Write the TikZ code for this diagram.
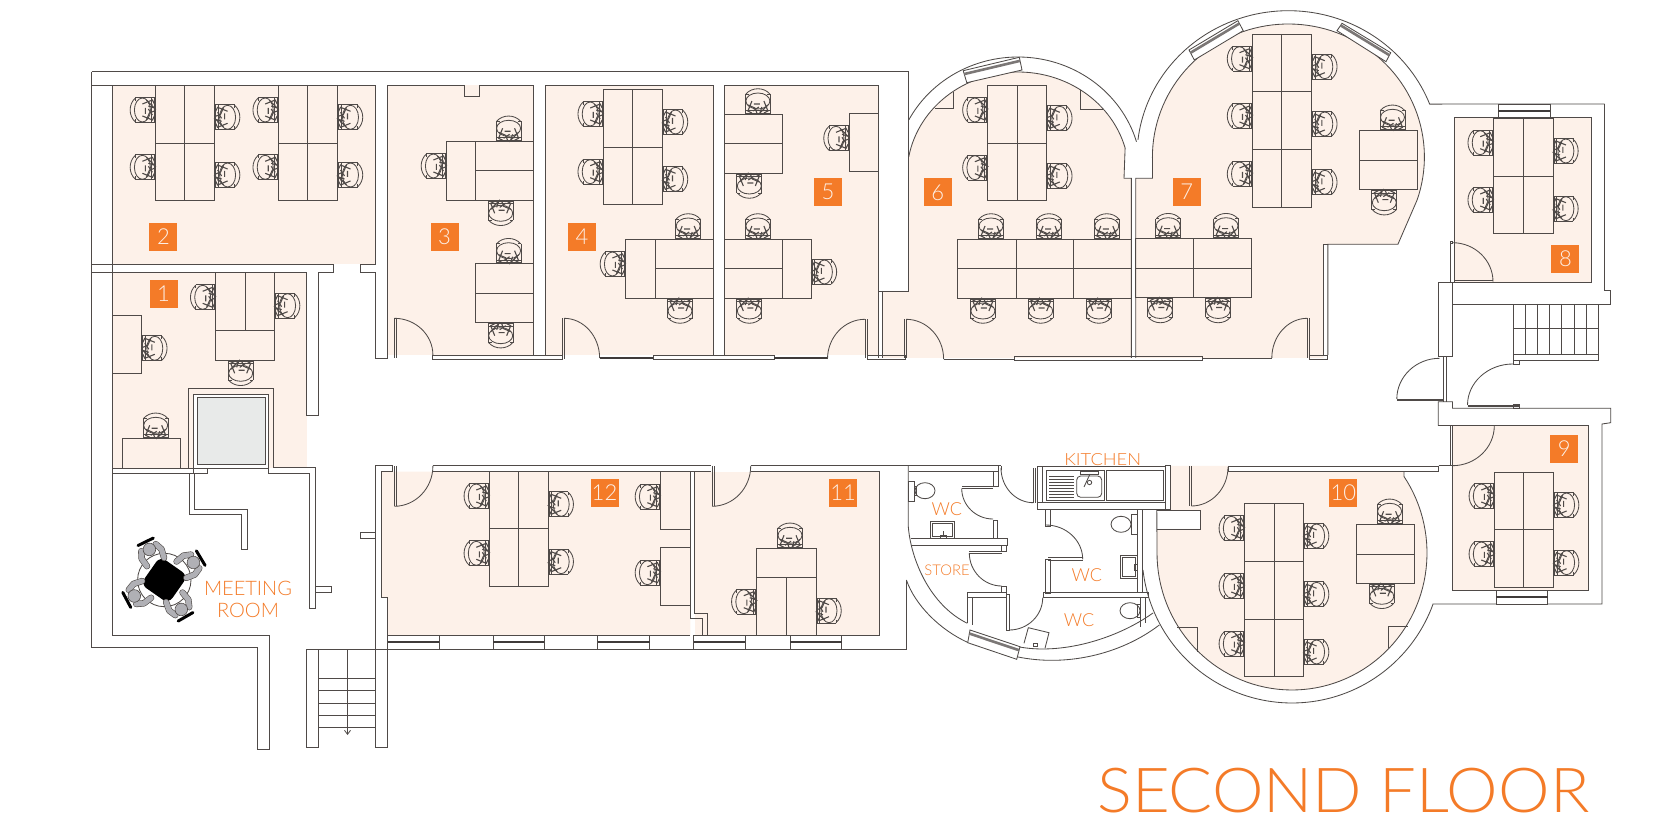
\documentclass[tikz,border=0pt]{standalone}
\usepackage{fontspec}
\usetikzlibrary{arrows.meta}
\setmainfont{Lato}
\newfontfamily\thinf{Lato Light}
\definecolor{lnc}{HTML}{4F4A48}
\definecolor{peach}{HTML}{FDF1E9}
\definecolor{orng}{HTML}{F47B28}
\definecolor{liftg}{HTML}{E8EAE9}
\definecolor{persong}{HTML}{B0B0B5}
\tikzset{
 numbox/.style={fill=orng,minimum size=14pt,inner sep=0pt,text=peach,font=\thinf\fontsize{11}{11}\selectfont},
 roomlab/.style={text=orng,inner sep=0pt,align=center},
 darkbar/.style={line width=1pt,color=lnc!80!black},
 seat/.pic={
  \draw (-20,-12) .. controls (-27,-6) and (-27,6) .. (-20,12);
  \draw (-13,0) ellipse [x radius=8,y radius=12];
  \draw (-20,-12.5) -- (-1,-12.5) -- (-1,12.5) -- (-20,12.5) (-20,-12.5) -- (-20,-9) (-20,12.5) -- (-20,9);
  \draw (-3.5,-12.5) -- (-3.5,12.5);
  \draw[line width=.55pt] (-13,-6) -- (-3,-10) -- (-1,-6) (-13,6) -- (-3,10) -- (-1,6) (-9,-10) -- (-1,-2) -- (-7,-4) (-9,10) -- (-6,3) -- (-1,1) (-7,-1) -- (-3,5) (-10,-2) -- (-10,4) (-7,-7) -- (-3,-5);
 },
 guest/.pic={
  \foreach \sg in {-1,1} {
   \draw[line width=3.2pt,lnc,line cap=round,line join=round] (36,{\sg*8}) -- (29,{\sg*11}) -- (20,{\sg*9.5});
   \draw[line width=2.6pt,persong,line cap=round,line join=round] (36,{\sg*8}) -- (29,{\sg*11}) -- (20,{\sg*9.5});
  }
  \draw[fill=persong,line width=.3pt] (34,0) circle [radius=6.3];
  \draw[line width=1.5pt,black,line cap=round] (42.5,-8.5) -- (42.5,8.5);
 }
}
\newcommand{\qarc}[6]{\draw (#1,#2) .. controls ({#1+.55*(#3-#1)},{#2+.55*(#4-#2)}) and ({#5+.55*(#3-#5)},{#6+.55*(#4-#6)}) .. (#5,#6);}
\newcommand{\chairs}[2]{\foreach \a/\b in {#2} {\pic[rotate=#1] at (\a,\b) {seat};}}
\newcommand{\winH}[4]{\fill[white] (#1,#3) rectangle (#2,#4);\draw (#1,#3) rectangle (#2,#4);\draw[darkbar] (#1,{(#3+#4)/2}) -- (#2,{(#3+#4)/2});}
\newcommand{\winR}[8]{\fill[white] (#1,#2) -- (#3,#4) -- (#5,#6) -- (#7,#8) -- cycle;\draw (#1,#2) -- (#3,#4) -- (#5,#6) -- (#7,#8) -- cycle;\draw[line width=1.3pt,color=lnc!75] ({.72*#1+.28*#7},{.72*#2+.28*#8}) -- ({.72*#3+.28*#5},{.72*#4+.28*#6});}
\newcommand{\toilet}[2]{\draw (#1,#2) ellipse [x radius=10,y radius=8];}
\begin{document}
\begin{tikzpicture}[x=.5pt,y=-.5pt,line width=.42pt,color=lnc,line join=miter]
\useasboundingbox (0,0) rectangle (1680,838);
\fill[white] (0,0) rectangle (1680,838);
%% ---- room fills
\fill[peach] (112.5,85) rectangle (375.7,264.3);
\fill[peach] (112.5,272.3) rectangle (306.8,468);
\fill[peach] (387.5,85) rectangle (533.6,355);
\fill[peach] (545.4,85) rectangle (713.2,355);
\fill[peach] (724.6,85) rectangle (878.6,355);
\fill[peach] (882.9,291) -- (908.6,291) -- plot[domain=169.8:15.2,samples=60,variable=\t] ({1018+111*cos(\t)},{175-103*sin(\t)}) -- (1124,178.3) -- (1131.4,178.3) -- (1131.4,358) -- (882.9,358) -- cycle;
\fill[peach] (1135.7,178.3) -- (1152.5,178.3) -- plot[domain=180:-18.9,samples=80,variable=\t] ({1288.4+136*cos(\t)},{157-133*sin(\t)}) -- (1397.9,244.3) -- (1323.6,244.3) -- (1323.6,358) -- (1135.7,358) -- cycle;
\fill[peach] (1454.6,117.3) rectangle (1591.4,282.7);
\fill[peach] (1452.5,425.7) rectangle (1588.2,590.3);
\fill[peach] (381.8,471.7) -- (690.4,471.7) -- (690.4,635.7) -- (387.5,635.7) -- (387.5,597.3) -- (381.8,597.3) -- cycle;
\fill[peach] (694.6,471.7) rectangle (879.6,635.7);
\fill[peach] (1170.4,466) -- (1228,466) -- (1228,471.3) -- (1404,471.3) -- plot[domain=34:-180,samples=80,variable=\t] ({1292+135*cos(\t)},{553-137*sin(\t)}) -- (1156.8,529) -- (1200.7,529) -- (1200.7,510) -- (1170.4,510) -- cycle;
%% ---- left block walls
\draw (91.8,71.7) -- (908.6,71.7) -- (908.6,291) -- (878.6,291);
\draw (91.8,71.7) -- (91.8,647.3) -- (257.5,647.3) -- (257.5,749) -- (269.3,749) -- (269.3,635.7) -- (112.5,635.7) -- (112.5,85);
\draw (91.8,85) -- (375.7,85) -- (375.7,264.3) -- (360.4,264.3) -- (360.4,272.3) -- (375.7,272.3) -- (375.7,358.3) -- (387.5,358.3) -- (387.5,85);
\draw (387.5,85) -- (464.6,85) -- (464.6,96) -- (479.3,96) -- (479.3,85) -- (533.6,85) -- (533.6,355);
\draw (545.4,355) -- (545.4,85) -- (713.2,85) -- (713.2,355);
\draw (724.6,355) -- (724.6,85) -- (878.6,85) -- (878.6,358);
\draw (882.9,291) -- (882.9,358);
\draw (91.8,264.3) -- (333.6,264.3) -- (333.6,272.3) -- (318.6,272.3) -- (318.6,415.3) -- (306.8,415.3) -- (306.8,272.3) -- (91.8,272.3);
%% lift and partitions
\draw (188.2,468.3) -- (188.2,388.3) -- (273.2,388.3) -- (273.2,467.7) -- (315.7,467.7) -- (315.7,608.3) -- (309.6,608.3) -- (309.6,473.7) -- (268.2,473.7) -- (268.2,394.3) -- (193.6,394.3) -- (193.6,473.7);
\fill[white] (193.6,394.3) rectangle (268.2,468);
\draw (193.6,394.3) rectangle (268.2,468);
\fill[liftg] (197.5,397.3) rectangle (265,464);
\draw (197.5,397.3) rectangle (265,464);
\draw (112.5,468.3) -- (207.9,468.3) -- (207.9,473.7) -- (112.5,473.7);
\draw (189.6,473.7) -- (189.6,514) -- (241.8,514) -- (241.8,549) -- (247.1,549) -- (247.1,509) -- (194.3,509) -- (194.3,473.7);
\draw (315.7,586.7) -- (331.8,586.7) -- (331.8,592.7) -- (315.7,592.7);
%% stairs left
\draw (306.4,649.3) rectangle (318.2,747.7);
\draw (375.7,649.3) rectangle (387.5,747.7);
\draw (318.2,649.3) -- (375.7,649.3);
\foreach \s in {678.3,690.7,703,715.3,727.7} {\draw (318.2,\s) -- (375.7,\s);}
\draw[-{Straight Barb[length=2pt,width=3pt]}] (347.5,649.3) -- (347.5,735);
%% corridor-south wall
\draw (387.5,649.3) -- (906.4,649.3) -- (906.4,580);
\draw (375.7,649.3) -- (375.7,465.7) -- (392,465.7) -- (392,471.7) -- (381.8,471.7) -- (381.8,597.3) -- (387.5,597.3) -- (387.5,649.3);
\draw (375.7,532.3) -- (360.4,532.3) -- (360.4,538.7) -- (375.7,538.7);
\draw (387.5,635.7) -- (690.4,635.7);
\draw (707.9,635.7) -- (879.6,635.7) -- (879.6,471.7);
\draw (432.9,465.7) -- (711.4,465.7) (432.9,471.7) -- (711.4,471.7);
\draw (750.7,465.7) -- (1001,465.7) (750.7,471.7) -- (879.6,471.7) (908.6,471.7) -- (998,471.7);
\draw (690.4,471.7) -- (690.4,618.3) -- (702.5,618.3) -- (702.5,635.7);
\draw (694.6,471.7) -- (694.6,613.3) -- (707.9,613.3) -- (707.9,635.7);
\winH{387.5}{439}{635.7}{649.3}
\winH{493.2}{544.3}{635.7}{649.3}
\winH{597.5}{649.6}{635.7}{649.3}
\winH{693.6}{745.4}{635.7}{649.3}
\winH{790.4}{841.8}{635.7}{649.3}
%% doors left block
\draw (394.3,318.3) -- (394.3,358) (396.2,318.3) -- (396.2,358);
\qarc{394.3}{318.3}{432.9}{318.3}{432.9}{355}
\draw (432.9,355) rectangle (562.9,359.3);
\draw (562,318.3) -- (562,359) (564,318.3) -- (564,359);
\qarc{564}{318.3}{599.6}{318.3}{599.6}{358}
\draw[darkbar] (599.6,358.5) -- (653.2,358.5);
\draw (653.2,355) rectangle (774,359.3);
\draw[darkbar] (774,358.5) -- (827.5,358.5);
\draw (865,319.3) -- (865,358) (867,319.3) -- (867,358);
\qarc{865}{319.3}{827.5}{319.3}{827.5}{359}
\draw (867,355) rectangle (905,359.3);
\draw (904,319.3) -- (904,358) (906,319.3) -- (906,358);
\qarc{906}{319.3}{943.6}{319.3}{943.6}{359}
\draw (943.6,359.5) -- (1014.3,359.5);
\draw (1014.3,356.7) rectangle (1202.9,360);
\draw (1202.9,358.5) -- (1271.8,358.5);
\draw (1307.3,318.3) -- (1307.3,358) (1309.3,318.3) -- (1309.3,358);
\qarc{1307.3}{318.3}{1271.8}{318.3}{1271.8}{358}
\draw (1309.3,355) rectangle (1327.9,359.3);
\draw (394.3,466) -- (394.3,506.3) (396.8,466) -- (396.8,506.3);
\qarc{394.3}{506.3}{432.9}{506.3}{432.9}{466}
\draw (712,466) -- (712,506.3) (714,466) -- (714,506.3);
\qarc{712}{506.3}{750.7}{506.3}{750.7}{466}
%% rooms 6, 7
\draw plot[domain=169.8:15.2,samples=60,variable=\t] ({1018+111*cos(\t)},{175-103*sin(\t)}) -- (1124,178.3) -- (1131.4,178.3) -- (1131.4,358);
\draw (1135.7,358) -- (1135.7,178.3) -- (1152.5,178.3) -- plot[domain=180:-18.9,samples=80,variable=\t] ({1288.4+136*cos(\t)},{157-133*sin(\t)}) -- (1397.9,244.3) -- (1327.9,244.3) -- (1327.9,355);
\draw (1323.6,355) -- (1323.6,244.3) -- (1327.9,244.3);
\draw plot[domain=152.2:16.4,samples=60,variable=\t] ({1018+123.5*cos(\t)},{175-118*sin(\t)});
\draw plot[domain=173.3:21.2,samples=80,variable=\t] ({1288.4+151.5*cos(\t)},{157-146.3*sin(\t)}) -- (1604.6,104);
\draw (908.6,120) -- (908.6,157);
\draw (953.6,91.7) -- (953.6,108.8) -- (934.6,108.8);
\draw (1080,90) -- (1080,109) -- (1102.5,109);
\winR{963.2}{70.7}{1019.3}{57.3}{1022}{70}{966.8}{82.7}
\winR{1189}{50}{1237.9}{20.7}{1243.2}{30.7}{1194.3}{60}
\winR{1342}{23.3}{1390.7}{52.7}{1386}{61.7}{1337}{30.7}
%% room 8 and stairs
\draw (1604.6,104) -- (1604.6,290) -- (1610.7,290) -- (1610.7,304) -- (1452.5,304);
\draw (1454.6,117.3) rectangle (1591.4,282.7);
\draw (1438.2,282.7) rectangle (1452.5,356);
\draw (1452.5,282.7) -- (1454.6,282.7);
\winH{1498.2}{1550.4}{104}{117.3}
\fill[peach] (1456,280) rectangle (1493,282);
\draw (1454.6,280) -- (1493,280);
\qarc{1452.5}{242.7}{1493}{242.7}{1493}{281.7}
\draw (1450,241) rectangle (1452.5,243);
\draw (1450,243) -- (1450,282);
\draw (1512.9,304) rectangle (1598.6,360.7);
\draw (1512.9,354) -- (1598.6,354) (1512.9,328.7) -- (1598.6,328.7);
\foreach \s in {1525.4,1537.5,1549.6,1561.8,1574.3,1586.4} {\draw (\s,304) -- (\s,354);}
\draw (1513,360.7) rectangle (1519,364);
\draw (1443,356.7) -- (1443,401.7) (1446.8,356.7) -- (1446.8,401.7);
\qarc{1439.6}{358.3}{1396.8}{358.3}{1396.8}{399}
\draw (1396.8,399) -- (1443,399) (1396.8,400.4) -- (1443,400.4);
\qarc{1512.9}{364}{1467.5}{364}{1467.5}{405}
\draw (1467.5,405) -- (1519.3,405) (1467.5,406.6) -- (1519.3,406.6);
\draw (1513,404) rectangle (1519.3,408.3);
%% room 9 and room 10 walls
\draw (1438.2,425.7) -- (1438.2,401.7) -- (1452.5,401.7) -- (1452.5,408.3) -- (1610.7,408.3) -- (1610.7,422.7) -- (1602,424) -- (1602,604) -- (1432.5,604);
\draw (1438.2,425.7) -- (1588.2,425.7) -- (1588.2,590.3) -- (1452.5,590.3) -- (1452.5,426);
\draw (1450.4,426) -- (1450.4,465.7);
\qarc{1452.5}{465.7}{1494.3}{465.7}{1494.3}{425.7}
\draw (1438.6,465.7) -- (1452.5,465.7);
\draw (1438.6,466) -- (1438.6,471.3) -- (1228,471.3) (1438.6,466) -- (1228,466) (1228,466) -- (1228,471.3);
\winH{1496.4}{1547.5}{590.3}{604}
\draw (1404,471.3) -- plot[domain=34:-180,samples=80,variable=\t] ({1292+135*cos(\t)},{553-137*sin(\t)}) -- (1156.8,510);
\draw plot[domain=-19.9:-173.5,samples=80,variable=\t] ({1292+150*cos(\t)},{553-150*sin(\t)});
\draw (1156.8,510) -- (1200.7,510) -- (1200.7,529) -- (1156.8,529);
\draw (1189.6,466) -- (1189.6,506) (1191.4,466) -- (1191.4,506);
\qarc{1191.4}{506}{1228}{506}{1228}{467}
\draw (1177,627.7) -- (1197.5,627.7) -- (1197.5,651.7);
\draw (1387.9,648) -- (1387.9,626) -- (1407.5,626);
%% WC block
\draw (908.3,465.7) -- (908.3,526.7) .. controls (911,560) and (930,605) .. (967.3,623.3);
\draw (1018,646.7) .. controls (1060,655) and (1115,640) .. (1153,613);
\draw (906.4,580) .. controls (915,605) and (940,630) .. (968.3,642.7);
\draw (1016.7,656.7) .. controls (1065,667) and (1120,655) .. (1159.3,625);
\winR{970}{630}{1020}{646.7}{1016.7}{659.3}{967.7}{642.7}
\draw (993,471.7) -- (993,486.7) -- (961.7,486.7) (998,466) -- (998,486.7) -- (993,486.7) (961.7,488.5) -- (993,488.5);
\qarc{961.7}{488.5}{961.7}{519}{993}{519}
\draw (993,520) rectangle (997.7,538);
\draw (911,538.3) -- (1007.3,538.3) -- (1007.3,545) -- (911,545);
\draw (1001.7,545) rectangle (1006,551);
\draw (969.3,551) -- (1001.7,551) (969.3,553) -- (1001.7,553);
\qarc{969.3}{553}{969.3}{586}{1001.7}{586}
\draw (1001.7,586) rectangle (1006,592.3);
\draw (967.3,592.3) rectangle (1006,597.7);
\draw (967.3,597.7) -- (967.3,623.3) (972,597.7) -- (972,625);
\draw (1006,594) -- (1006,630) -- (1009.3,630) -- (1009.3,594) -- (1006,594);
\qarc{1009.3}{630}{1042.7}{630}{1042.7}{597.7}
\draw (1001,466) -- (1001,470);
\qarc{1001}{468}{1001}{502.7}{1033.3}{502.7}
\draw (1033.3,468) -- (1033.3,502.7) (1035.5,468) -- (1035.5,502.7);
\draw (1037.7,466.7) rectangle (1042.7,502.7);
\draw (1042.7,466.7) -- (1165.7,466.7);
\draw (1037.7,502.7) rectangle (1165.7,509.3);
\draw (1165.7,465.7) rectangle (1170.4,509.3);
\draw (1046.7,470) rectangle (1104,500.7);
\foreach \s in {476,479,482,485,488,491,494,497} {\draw[line width=.3pt] (1049.3,\s) -- (1074,\s);}
\draw[rounded corners=2pt] (1076.7,476) rectangle (1101.7,497.3);
\draw (1080,471.5) rectangle (1098,474);
\draw (1084,487) -- (1090,474);
\draw (1089.5,482.5) circle [radius=2.2];
\draw (1106.7,470) rectangle (1163.3,500.7);
\draw (1045.7,509.3) rectangle (1050,526);
\qarc{1045.7}{525}{1082.7}{525}{1082.7}{559.3}
\draw (1048,557.7) -- (1082.7,557.7) (1048,560) -- (1082.7,560);
\draw (1045.7,559.3) rectangle (1050,593.3);
\draw (1137.7,509.3) -- (1137.7,592.7) (1142.3,509.3) -- (1142.3,592.7);
\draw (1043.3,592.7) rectangle (1148.3,597.7);
\draw (1140.7,597.7) -- (1140.7,627) (1145.7,597.7) -- (1145.7,623);
\toilet{925}{490.7}
\draw (908.3,481.7) rectangle (914.3,501.7);
\draw (914.3,486) rectangle (916.5,495);
\toilet{1121}{524.3}
\draw (1131.7,514.3) rectangle (1137.3,534.3);
\toilet{1130}{610.7}
\draw (1140.7,604) -- (1137.7,604) -- (1137.7,617) -- (1140.7,617);
\draw (930.7,521.7) rectangle (954.3,538.3);
\draw (932.5,523.5) rectangle (952.5,536.5);
\draw (940,538) rectangle (946,535) (943,535) -- (943,531);
\draw (1120.7,555) rectangle (1137.3,578.3);
\draw (1122.5,557) rectangle (1135.5,576.5);
\draw (1134.5,564) rectangle (1137.3,570);
\draw (1024,643.3) -- (1028.3,627.7) -- (1049,632.7) -- (1045,648.3);
\draw (1033,643) rectangle (1037,646);
%% ---- desks
\foreach \o in {0,122.8} {
 \draw ({155.4+\o},85) -- ({155.4+\o},200.7) -- ({214.6+\o},200.7) -- ({214.6+\o},85);
 \draw ({184.6+\o},85) -- ({184.6+\o},200.7) ({155.4+\o},143.3) -- ({214.6+\o},143.3);
}
\draw (446.4,141.3) rectangle (533.6,200.3);
\draw (475.7,141.3) -- (475.7,200.3) (475.7,170.7) -- (533.6,170.7);
\draw (475.7,263.7) rectangle (533.6,322.7);
\draw (475.7,293.3) -- (533.6,293.3);
\draw (603.2,89.3) rectangle (662.5,204.7);
\draw (632.9,89.3) -- (632.9,204.7) (603.2,147.3) -- (662.5,147.3);
\draw (625.4,239.3) rectangle (713.2,298);
\draw (655,239.3) -- (655,298) (655,268.3) -- (713.2,268.3);
\draw (724.6,114) rectangle (782.9,173);
\draw (724.6,143.3) -- (782.9,143.3);
\draw (849,113.7) rectangle (878.6,171.7);
\draw (724.6,239.3) rectangle (811.4,298);
\draw (782,239.3) -- (782,298) (724.6,268.3) -- (782,268.3);
\draw (215.7,272.3) rectangle (274.6,360.3);
\draw (245.4,272.3) -- (245.4,330.3) (215.7,330.3) -- (274.6,330.3);
\draw (112.5,315.3) rectangle (141.8,373.7);
\draw (122.9,438.3) -- (180.7,438.3) -- (180.7,468.3) (122.9,438.3) -- (122.9,468.3);
\draw (987.9,85.3) rectangle (1046.8,200.7);
\draw (1017.5,85.3) -- (1017.5,200.7) (987.9,143) -- (1046.8,143);
\draw (957.9,239) rectangle (1131.4,298);
\draw (957.9,268.3) -- (1131.4,268.3) (1016,239) -- (1016,298) (1073.6,239) -- (1073.6,298);
\draw (1135.7,238.7) rectangle (1251.4,297.5);
\draw (1135.7,268) -- (1251.4,268) (1193.2,238.7) -- (1193.2,297.5);
\draw (1252.5,34) rectangle (1311.8,207.3);
\draw (1281.8,34) -- (1281.8,207.3) (1252.5,91.7) -- (1311.8,91.7) (1252.5,149.3) -- (1311.8,149.3);
\draw (1359.3,130.3) rectangle (1417.5,189.7);
\draw (1359.3,160.3) -- (1417.5,160.3);
\draw (1493.2,118.3) rectangle (1552.9,233.7);
\draw (1523.2,118.3) -- (1523.2,233.7) (1493.2,176) -- (1552.9,176);
\draw (1494.3,472) rectangle (1553.6,587.7);
\draw (1523.6,472) -- (1523.6,587.7) (1494.3,529.7) -- (1553.6,529.7);
\draw (1244.3,503.3) rectangle (1303.6,676.7);
\draw (1274.3,503.3) -- (1274.3,676.7) (1244.3,561.3) -- (1303.6,561.3) (1244.3,619) -- (1303.6,619);
\draw (1356.4,524.3) rectangle (1414.6,583.3);
\draw (1356.4,554) -- (1414.6,554);
\draw (489.3,471.7) rectangle (548.2,586.7);
\draw (518.6,471.7) -- (518.6,586.7) (489.3,528.7) -- (548.2,528.7);
\draw (660.4,471.7) rectangle (690.4,529.3);
\draw (660.4,547.3) rectangle (690.4,605.7);
\draw (756.8,548.3) rectangle (816,635.7);
\draw (786.4,577.3) -- (786.4,635.7) (756.8,577.3) -- (816,577.3);
%% ---- chairs: 0 = left of desk, 180 = right, -90 = above, 90 = below
\chairs{0}{155.4/110,155.4/167.3,278.2/110,278.2/167.3,446.4/166,603.2/114,603.2/171.7,625.4/264,849/138.3,215.7/297.3,987.9/110,987.9/167.7,1252.5/58.7,1252.5/116,1252.5/174,1493.2/142.7,1493.2/200,1494.3/496,1494.3/554,1244.3/528.3,1244.3/586,1244.3/643.7,489.3/496,489.3/553.3,660.4/496.7,660.4/572.7,756.8/601.7}
\chairs{180}{214.6/117.3,214.6/175,337.5/117.3,337.5/175,662.5/122,662.5/179.3,811.4/272,274.6/305.7,141.8/348.3,1046.8/118.3,1046.8/176,1311.8/66.7,1311.8/124,1311.8/182.3,1552.9/151,1552.9/208.7,1553.6/505,1553.6/562.7,1303.6/536,1303.6/594.3,1303.6/652,548.2/504.3,548.2/561.7,816/610.7}
\chairs{-90}{508.6/141.3,508.6/263.7,688.2/239,757.9/114,757.9/239,155.7/438.3,991/239,1049/239,1106.8/239,1168.2/238.7,1226/238.7,1392.5/130.3,1389.6/524.3,790/548.3}
\chairs{90}{500.7/200.3,500.7/322.7,680/298,749.3/173,749.3/298,240.7/360.3,982.9/298,1040.7/298,1098.9/298,1160.4/297.5,1218.2/297.5,1384.3/189.7,1381.8/583.3}
%% ---- meeting table
\draw (164.3,580) circle [radius=26.7];
\fill[black,rounded corners=3.5pt,rotate around={-35:(164.3,580)}] (147.3,563) rectangle (181.3,597);
\pic[rotate=116] at (164.3,580) {guest};
\pic[rotate=31] at (164.3,580) {guest};
\pic[rotate=208] at (164.3,580) {guest};
\pic[rotate=-60] at (164.3,580) {guest};
%% ---- labels
\node[numbox] (n1) at (163.5,294) {1};
\node[numbox] (n2) at (163.4,237) {2};
\node[numbox] (n3) at (444.6,237) {3};
\node[numbox] (n4) at (582,237) {4};
\node[numbox] (n5) at (828,192) {5};
\node[numbox] (n6) at (937.7,192.5) {6};
\node[numbox] (n7) at (1186.8,192) {7};
\node[numbox] (n8) at (1565.4,258.7) {8};
\node[numbox] (n9) at (1564.3,448.7) {9};
\node[numbox] (n10) at (1343.4,493) {10};
\node[numbox] (n11) at (843,493) {11};
\node[numbox] (n12) at (604.5,493) {12};
\node[roomlab,font=\thinf\fontsize{10}{10.6}\selectfont] (meet) at (248,599.5) {MEETING\\ROOM};
\node[roomlab,font=\thinf\fontsize{8.4}{8.4}\selectfont] (kit) at (1102.7,459.3) {\scalebox{1.09}[1]{KITCHEN}};
\node[roomlab,font=\thinf\fontsize{9}{9}\selectfont] (wc1) at (946.7,509) {WC};
\node[roomlab,font=\thinf\fontsize{9}{9}\selectfont] (wc2) at (1086.7,575.3) {WC};
\node[roomlab,font=\thinf\fontsize{9}{9}\selectfont] (wc3) at (1079,620) {WC};
\node[roomlab,font=\thinf\fontsize{7.4}{7.4}\selectfont] (store) at (947,569.8) {STORE};
\node[roomlab,font=\thinf\fontsize{31}{31}\selectfont] (title) at (1343.4,791) {\scalebox{1.05}[1]{SECOND FLOOR}};
\end{tikzpicture}
\end{document}
